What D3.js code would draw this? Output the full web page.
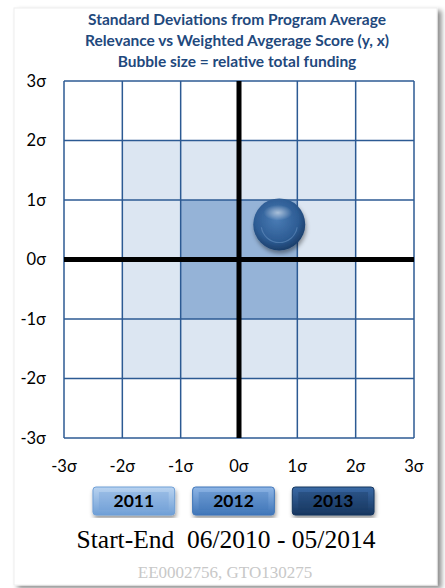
<!DOCTYPE html>
<html>
<head>
<meta charset="utf-8">
<script src="https://cdn.jsdelivr.net/npm/d3@7"></script>
<style>
  body { margin: 0; background: #fff; }
  svg { display: block; }
</style>
</head>
<body>
<svg id="chart" width="445" height="588"></svg>
<script>
// chart data
const titleLines = [
  "Standard Deviations from Program Average",
  "Relevance vs Weighted Avgerage Score (y, x)",
  "Bubble size = relative total funding"
];
const sigmaTicks = [-3, -2, -1, 0, 1, 2, 3];
const bands = [ // shaded square regions, in sigma
  { extent: 2, color: "#dce6f2" },
  { extent: 1, color: "#95b3d7" }
];
const bubbles = [{ x: 0.69, y: 0.59, funding: 1 }];
const years = ["2011", "2012", "2013"];
const yearColors = [["#b9d3f0", "#6f9fd6"], ["#8fb6e6", "#3f75b8"], ["#3a6aa6", "#17365f"]];
const periodText = "Start-End  06/2010 - 05/2014";
const idText = "EE0002756, GTO130275";

const svg = d3.select("#chart");
const margin = { top: 81, right: 34, bottom: 150, left: 64 };
const width = 445, height = 588;

const defs = svg.append("defs");

// card shadow
const shadow = defs.append("filter").attr("id", "cardShadow")
  .attr("x", "-5%").attr("y", "-5%").attr("width", "115%").attr("height", "115%");
shadow.append("feDropShadow").attr("dx", 4).attr("dy", 3).attr("stdDeviation", 2.5)
  .attr("flood-color", "#000").attr("flood-opacity", 0.45);

svg.append("rect")
  .attr("x", 14).attr("y", 8).attr("width", 423).attr("height", 577)
  .attr("fill", "#fff").attr("stroke", "#eeeeee")
  .attr("filter", "url(#cardShadow)");

// title
svg.append("g").selectAll("text").data(titleLines).join("text")
  .attr("x", 237).attr("y", (d, i) => 25 + i * 21)
  .attr("text-anchor", "middle")
  .attr("font-family", "Lato, 'Open Sans', sans-serif")
  .attr("font-weight", "bold").attr("font-size", 15.5)
  .attr("fill", "#1f497d")
  .text(d => d);

const x = d3.scaleLinear().domain([-3, 3]).range([margin.left, width - margin.right + 3]);
const y = d3.scaleLinear().domain([-3, 3]).range([height - margin.bottom, margin.top]);

// shaded bands
svg.append("g").selectAll("rect").data(bands).join("rect")
  .attr("x", d => x(-d.extent)).attr("y", d => y(d.extent))
  .attr("width", d => x(d.extent) - x(-d.extent))
  .attr("height", d => y(-d.extent) - y(d.extent))
  .attr("fill", d => d.color);

// grid
const grid = svg.append("g").attr("stroke", "#2c5a93").attr("stroke-width", 1.5);
grid.selectAll("line.v").data(sigmaTicks).join("line").attr("class", "v")
  .attr("x1", d => x(d)).attr("x2", d => x(d))
  .attr("y1", y(3)).attr("y2", y(-3));
grid.selectAll("line.h").data(sigmaTicks).join("line").attr("class", "h")
  .attr("y1", d => y(d)).attr("y2", d => y(d))
  .attr("x1", x(-3)).attr("x2", x(3));

// zero axes
svg.append("line").attr("x1", x(0)).attr("x2", x(0)).attr("y1", y(3)).attr("y2", y(-3))
  .attr("stroke", "#000").attr("stroke-width", 5);
svg.append("line").attr("y1", y(0)).attr("y2", y(0)).attr("x1", x(-3)).attr("x2", x(3))
  .attr("stroke", "#000").attr("stroke-width", 5);

// tick labels
const tickFont = "Lato, 'Open Sans', sans-serif";
svg.append("g").selectAll("text").data(sigmaTicks).join("text")
  .attr("x", 46).attr("y", d => y(d)).attr("dy", "0.35em")
  .attr("text-anchor", "end").attr("font-family", tickFont).attr("font-size", 16.5)
  .attr("fill", "#000").text(d => d + "σ");
svg.append("g").selectAll("text").data(sigmaTicks).join("text")
  .attr("x", d => x(d)).attr("y", 466).attr("dy", "0.35em")
  .attr("text-anchor", "middle").attr("font-family", tickFont).attr("font-size", 16.5)
  .attr("fill", "#000").text(d => d + "σ");

// bubble
const r = d3.scaleSqrt().domain([0, 1]).range([0, 26]);
const bg = defs.append("radialGradient").attr("id", "bubbleGrad")
  .attr("cx", "45%").attr("cy", "40%").attr("r", "60%");
bg.append("stop").attr("offset", "0%").attr("stop-color", "#4a7cb5");
bg.append("stop").attr("offset", "70%").attr("stop-color", "#2d5c94");
bg.append("stop").attr("offset", "100%").attr("stop-color", "#1c3f6b");
const hg = defs.append("radialGradient").attr("id", "bubbleHi")
  .attr("cx", "50%").attr("cy", "50%").attr("r", "50%");
hg.append("stop").attr("offset", "0%").attr("stop-color", "#fff").attr("stop-opacity", 0.55);
hg.append("stop").attr("offset", "100%").attr("stop-color", "#fff").attr("stop-opacity", 0);
const bs = defs.append("filter").attr("id", "bubbleShadow");
bs.append("feDropShadow").attr("dx", 1).attr("dy", 3).attr("stdDeviation", 2)
  .attr("flood-color", "#000").attr("flood-opacity", 0.4);

const bubbleG = svg.append("g").selectAll("g").data(bubbles).join("g")
  .attr("transform", d => `translate(${x(d.x)},${y(d.y)})`);
bubbleG.append("circle").attr("r", d => r(d.funding))
  .attr("fill", "url(#bubbleGrad)").attr("filter", "url(#bubbleShadow)");
bubbleG.append("ellipse")
  .attr("cx", d => -r(d.funding) * 0.05).attr("cy", d => -r(d.funding) * 0.45)
  .attr("rx", d => r(d.funding) * 0.55).attr("ry", d => r(d.funding) * 0.3)
  .attr("fill", "url(#bubbleHi)");
bubbleG.append("path")
  .attr("d", d => {
    const rr = r(d.funding) * 0.72;
    return d3.arc()({ innerRadius: rr - 1.2, outerRadius: rr, startAngle: Math.PI * 0.55, endAngle: Math.PI * 1.45 });
  })
  .attr("fill", "#6d97c8").attr("opacity", 0.5);

// year buttons
const btnX = d3.scaleBand().domain(years).range([83, 384]).paddingInner(0.18).paddingOuter(0.1);
years.forEach((yr, i) => {
  const g = defs.append("linearGradient").attr("id", "btn" + i)
    .attr("x1", 0).attr("y1", 0).attr("x2", 0).attr("y2", 1);
  g.append("stop").attr("offset", "0%").attr("stop-color", yearColors[i][0]);
  g.append("stop").attr("offset", "100%").attr("stop-color", yearColors[i][1]);
});
const btn = svg.append("g").selectAll("g").data(years).join("g")
  .attr("transform", d => `translate(${btnX(d)},487)`);
btn.append("rect").attr("width", btnX.bandwidth()).attr("height", 28).attr("rx", 3)
  .attr("fill", (d, i) => `url(#btn${i})`).attr("stroke", (d, i) => yearColors[i][1])
  .attr("filter", "url(#bubbleShadow)");
btn.append("rect").attr("x", 6).attr("y", 5).attr("width", btnX.bandwidth() - 12).attr("height", 18)
  .attr("fill", (d, i) => yearColors[i][1]).attr("opacity", 0.35);
btn.append("text").attr("x", btnX.bandwidth() / 2).attr("y", 14).attr("dy", "0.36em")
  .attr("text-anchor", "middle").attr("font-family", tickFont).attr("font-weight", "bold")
  .attr("font-size", 17.5).attr("fill", "#000").text(d => d);

// footer
svg.append("text").attr("x", 226).attr("y", 548).attr("text-anchor", "middle")
  .attr("font-family", "'Liberation Serif', 'Times New Roman', serif").attr("font-size", 25.5)
  .attr("fill", "#000").attr("xml:space", "preserve").style("white-space", "pre").text(periodText);
svg.append("text").attr("x", 225).attr("y", 578).attr("text-anchor", "middle")
  .attr("font-family", "'Liberation Serif', 'Times New Roman', serif").attr("font-size", 17)
  .attr("fill", "#c8c8c8").text(idText);
</script>
</body>
</html>
